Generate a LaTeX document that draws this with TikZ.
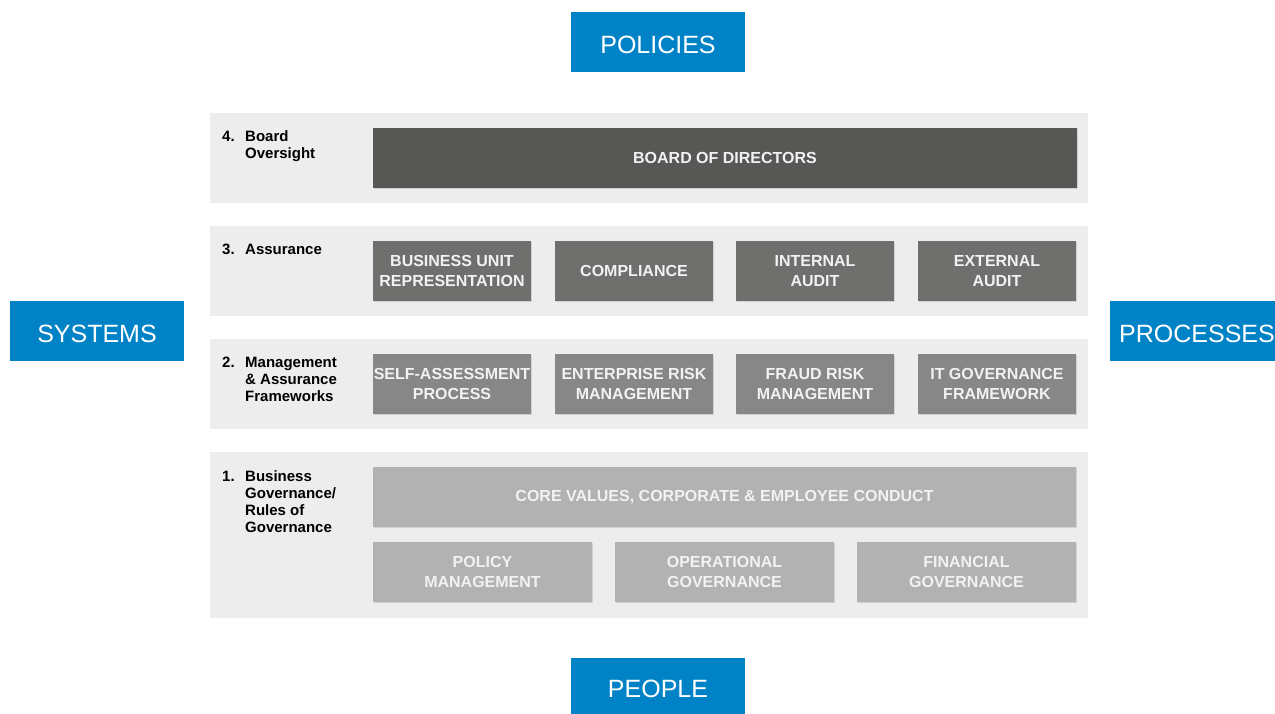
\documentclass[tikz,border=0pt]{standalone}
\usepackage{fontspec}
\setmainfont{Liberation Sans}
\usetikzlibrary{shadows}
\definecolor{bandgray}{HTML}{EDEDED}
\definecolor{boardgray}{HTML}{575756}
\definecolor{assgray}{HTML}{6F6F6E}
\definecolor{mgmtgray}{HTML}{878787}
\definecolor{govgray}{HTML}{B2B2B2}
\definecolor{capblue}{HTML}{0082C6}
\definecolor{boxtext}{HTML}{F2F2F2}
\newcommand{\rowlab}[2]{\makebox[23pt][l]{#1}\begin{tabular}[t]{@{}l@{}}#2\end{tabular}}
\begin{document}
\begin{tikzpicture}[x=1pt,y=-1pt,
  band/.style={fill=bandgray, draw=none, inner sep=0pt, minimum width=878pt},
  gbox/.style={draw=none, inner sep=0pt, minimum height=60pt, align=center,
    text=boxtext, font=\fontsize{16}{20}\selectfont\bfseries,
    drop shadow={shadow xshift=1pt, shadow yshift=-1pt, opacity=0.25}},
  bluebox/.style={fill=capblue, draw=none, inner sep=0pt, minimum width=174pt,
    minimum height=60pt, text=white, text height=22pt, text depth=0pt,
    font=\fontsize{25}{29}\selectfont},
  rowlabel/.style={anchor=base west, inner sep=0pt, align=left,
    font=\fontsize{15}{17}\selectfont\bfseries}]
\useasboundingbox (0,0) rectangle (1275,713);
% bands
\node[band, minimum height=90pt] (b4) at (649,158) {};
\node[band, minimum height=90pt] (b3) at (649,271) {};
\node[band, minimum height=90pt] (b2) at (649,384) {};
\node[band, minimum height=166pt] (b1) at (649,535) {};
% blue captions
\node[bluebox] (policies) at (658,42) {POLICIES};
\node[bluebox] (systems) at (97,331) {SYSTEMS};
\node[bluebox] (processes) at (1197,331) {PROCESSES};
\node[bluebox, text height=19pt] (people) at (658,688) {PEOPLE};
% row labels
\node[rowlabel] (l4) at (222,141) {\rowlab{4.}{Board\\Oversight}};
\node[rowlabel] (l3) at (222,254) {\rowlab{3.}{Assurance}};
\node[rowlabel] (l2) at (222,367) {\rowlab{2.}{Management\\\& Assurance\\Frameworks}};
\node[rowlabel] (l1) at (222,481) {\rowlab{1.}{Business\\Governance/\\Rules of\\Governance}};
% row 4
\node[gbox, fill=boardgray, minimum width=704pt] (board) at (725,158) {BOARD OF DIRECTORS};
% row 3
\node[gbox, fill=assgray, minimum width=158pt] (bur) at (452,271) {BUSINESS UNIT\\REPRESENTATION};
\node[gbox, fill=assgray, minimum width=158pt] (comp) at (634,271) {COMPLIANCE};
\node[gbox, fill=assgray, minimum width=158pt] (ia) at (815,271) {INTERNAL\\AUDIT};
\node[gbox, fill=assgray, minimum width=158pt] (ea) at (997,271) {EXTERNAL\\AUDIT};
% row 2
\node[gbox, fill=mgmtgray, minimum width=158pt] (sap) at (452,384) {SELF-ASSESSMENT\\PROCESS};
\node[gbox, fill=mgmtgray, minimum width=158pt] (erm) at (634,384) {ENTERPRISE RISK\\MANAGEMENT};
\node[gbox, fill=mgmtgray, minimum width=158pt] (frm) at (815,384) {FRAUD RISK\\MANAGEMENT};
\node[gbox, fill=mgmtgray, minimum width=158pt] (itg) at (997,384) {IT GOVERNANCE\\FRAMEWORK};
% row 1
\node[gbox, fill=govgray, minimum width=703pt] (core) at (724.5,497) {CORE VALUES, CORPORATE \& EMPLOYEE CONDUCT};
\node[gbox, fill=govgray, minimum width=219pt] (pm) at (482.5,572) {POLICY\\MANAGEMENT};
\node[gbox, fill=govgray, minimum width=219pt] (og) at (724.5,572) {OPERATIONAL\\GOVERNANCE};
\node[gbox, fill=govgray, minimum width=219pt] (fg) at (966.5,572) {FINANCIAL\\GOVERNANCE};
\end{tikzpicture}
\end{document}
